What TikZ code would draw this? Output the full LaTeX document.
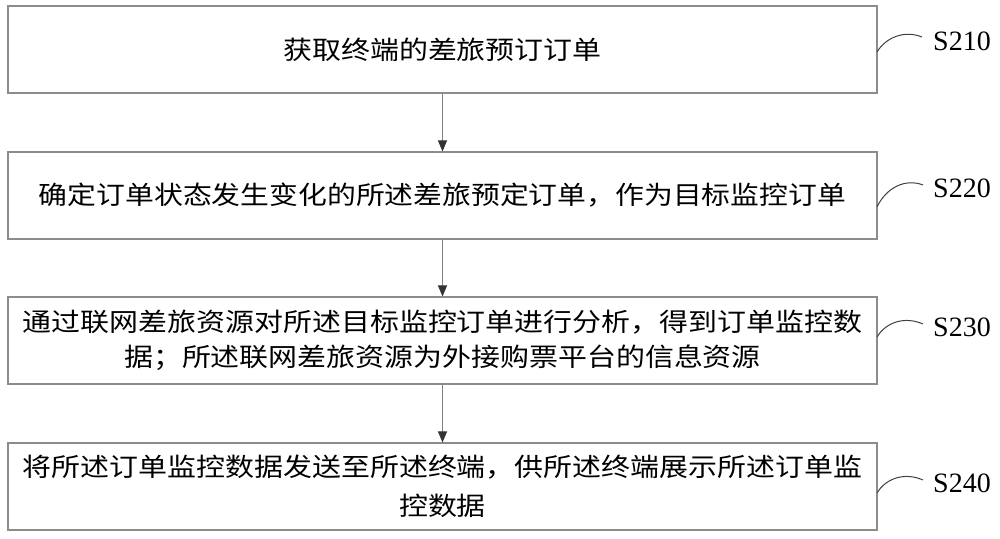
\documentclass[tikz,border=0pt]{standalone}
\usepackage{fontspec}
\usetikzlibrary{arrows.meta}
\newfontfamily\cjk[FakeStretch=1.135]{Noto Sans CJK SC}
\newfontfamily\lblfont{Liberation Serif}
\tikzset{
  stepbox/.style={draw=black!45, line width=1.1pt, minimum width=869pt, minimum height=87pt, inner sep=0pt, align=center, text=black},
  flow/.style={draw=black!50, line width=1pt, -{Triangle[length=11pt,width=9pt,color=black!80]}},
  steplabel/.style={font=\lblfont\fontsize{28}{30}\selectfont, inner sep=0pt, text=black},
  tie/.style={draw=black!75, line width=1pt}
}
\begin{document}
\begin{tikzpicture}[x=1pt,y=-1pt]
\useasboundingbox (0,0) rectangle (1000,538);
\fill[white] (0,0) rectangle (1000,538);

\node[stepbox, font=\cjk\fontsize{25.5}{36}\selectfont] (b1) at (442.5,49.5) {获取终端的差旅预订订单};
\node[stepbox, font=\cjk\fontsize{25.4}{36}\selectfont] (b2) at (442.5,195.5) {确定订单状态发生变化的所述差旅预定订单，作为目标监控订单};
\node[stepbox, font=\cjk\fontsize{25.5}{35}\selectfont] (b3) at (442.5,340.5) {通过联网差旅资源对所述目标监控订单进行分析，得到订单监控数\\据；所述联网差旅资源为外接购票平台的信息资源};
\node[stepbox, font=\cjk\fontsize{25.5}{39}\selectfont] (b4) at (442.5,486.5) {将所述订单监控数据发送至所述终端，供所述终端展示所述订单监\\控数据};

\draw[flow] (b1) -- (b2);
\draw[flow] (b2) -- (b3);
\draw[flow] (b3) -- (b4);

\node[steplabel] (l1) at (962,41) {S210};
\node[steplabel] (l2) at (962,188) {S220};
\node[steplabel] (l3) at (962,327) {S230};
\node[steplabel] (l4) at (962,483) {S240};

\coordinate (s1) at (877,52);  \coordinate (e1) at (922,37);
\coordinate (s2) at (877,207); \coordinate (e2) at (923,185);
\coordinate (s3) at (877,337); \coordinate (e3) at (923,324);
\coordinate (s4) at (877,493); \coordinate (e4) at (923,480);

\draw[tie] (s1) .. controls (886,37) and (905,30) .. (e1);
\draw[tie] (s2) .. controls (886,188) and (905,178) .. (e2);
\draw[tie] (s3) .. controls (886,322) and (905,316) .. (e3);
\draw[tie] (s4) .. controls (886,478) and (905,472) .. (e4);
\end{tikzpicture}
\end{document}
